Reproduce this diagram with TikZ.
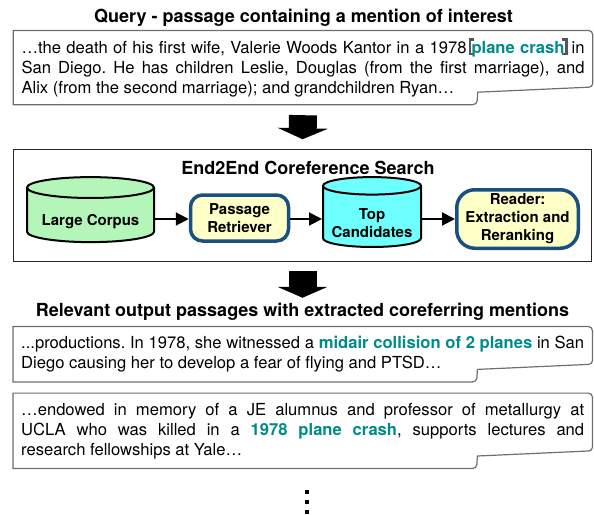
\documentclass[tikz,border=0pt]{standalone}
\usepackage{fontspec}
\setmainfont{TeX Gyre Heros}
\usetikzlibrary{calc}
\usetikzlibrary{positioning}
\usetikzlibrary{arrows.meta}
\usetikzlibrary{shapes.geometric}

\definecolor{mentioncol}{RGB}{0,139,139}
\definecolor{brkgray}{RGB}{85,85,85}
\definecolor{papergray}{RGB}{110,110,110}
\definecolor{corpusgreen}{RGB}{180,246,185}
\definecolor{topcyan}{RGB}{110,255,255}
\definecolor{moduleyellow}{RGB}{255,255,200}
\definecolor{moduleblue}{RGB}{25,80,130}

\hyphenpenalty=10000
\exhyphenpenalty=10000
\tolerance=10000
\frenchspacing

\newcommand{\mention}[1]{\textcolor{mentioncol}{\bfseries #1}}
\newcommand{\lbrk}{\kern2pt{\color{brkgray}\rlap{\rule[-2pt]{5.5pt}{2.5pt}}\rlap{\rule[12.8pt]{5.5pt}{2.5pt}}\rule[-2pt]{2.5pt}{17.3pt}}\kern0.5pt}
\newcommand{\rbrk}{\kern0.5pt{\color{brkgray}\rule[-2pt]{2.5pt}{17.3pt}\llap{\rule[-2pt]{5.5pt}{2.5pt}}\llap{\rule[12.8pt]{5.5pt}{2.5pt}}}\kern4pt}
\newcommand{\paperoutline}[1]{%
\draw[paper] (#1.north west) -- ($(#1.north east)+(-4,0)$) to[out=0,in=90] ($(#1.north east)+(0,4)$)
  -- ($(#1.south east)+(0,-21)$) to[out=-90,in=0] ($(#1.south east)+(-4,-17.5)$)
  -- ($(#1.south east)+(-115,-12.5)$) -- ($(#1.south east)+(-115.5,-4)$) to[out=-90,in=0] ($(#1.south east)+(-120,0)$)
  -- (#1.south west) -- cycle;}

\begin{document}
\begin{tikzpicture}[x=1pt,y=-1pt,
  head/.style={font=\fontsize{18}{22}\selectfont\bfseries, anchor=base, inner sep=0pt},
  passage/.style={text width=563pt, align=justify, inner xsep=8pt, inner ysep=0pt, minimum width=579pt, font=\fontsize{16.6}{20}\selectfont},
  paper/.style={draw=papergray, line width=1.2pt},
  frame/.style={draw=black!85, line width=1.5pt},
  store/.style={cylinder, shape border rotate=90, aspect=0.2, draw, line width=2pt, align=center, font=\fontsize{15}{18}\selectfont\bfseries},
  module/.style={rectangle, rounded corners=12pt, draw=moduleblue, fill=moduleyellow, line width=3.5pt, align=center, font=\fontsize{15}{18}\selectfont\bfseries},
  flow/.style={line width=2pt, -{Triangle[length=13pt,width=13pt]}},
  blockarrow/.style={line width=28pt, -{Triangle[length=11pt,width=50pt]}}]
\useasboundingbox (0,0) rectangle (594,514);

\node[head] (qtitle) at (303.5,22) {Query - passage containing a mention of interest};
\node[passage, minimum height=73.8pt] (query) at (303,67.6) {\parindent=0pt …the death of his first wife, Valerie Woods Kantor in a 1978\lbrk\mention{plane crash}\rbrk in\linebreak
San Diego. He has children Leslie, Douglas (from the first marriage), and\linebreak
Alix (from the second marriage); and grandchildren Ryan…};
\paperoutline{query}

\node[frame, minimum width=578.4pt, minimum height=112.4pt] (search) at (302.5,205.5) {};
\node[head] (stitle) at (308,174) {End2End Coreference Search};

\node[store, fill=corpusgreen, minimum width=127pt, minimum height=65pt, text height=21pt] (corpus) at (90.5,217) {Large Corpus};
\node[module, minimum width=98pt, minimum height=46pt] (retriever) at (239.5,218) {Passage\\Retriever};
\node[store, fill=topcyan, minimum width=98pt, minimum height=45pt, text height=39pt] (topcand) at (372,218.5) {Top\\Candidates};
\node[module, rounded corners=18pt, minimum width=121.5pt, minimum height=58.5pt] (reader) at (517.5,219) {Reader:\\Extraction and\\Reranking};

\draw[flow] (corpus.east |- reader) -- (retriever.west |- reader);
\draw[flow] (retriever.east |- reader) -- (topcand.west |- reader);
\draw[flow] (topcand.east |- reader) -- (reader.west);

\draw[blockarrow] ([yshift=-10.5pt]query.south) -- ([yshift=9.3pt]search.north);
\draw[blockarrow] ([yshift=-8.3pt]search.south) -- ++(0,27);

\node[head] (otitle) at (302.5,316.7) {Relevant output passages with extracted coreferring mentions};

\node[passage, minimum height=55pt] (out1) at (302.7,354.2) {\parindent=0pt ...productions. In 1978, she witnessed a \mention{midair collision of 2 planes} in San\linebreak
Diego causing her to develop a fear of flying and PTSD…};
\paperoutline{out1}

\node[passage, minimum height=75pt] (out2) at (302.7,430.8) {\parindent=0pt …endowed in memory of a JE alumnus and professor of metallurgy at\linebreak
UCLA who was killed in a \mention{1978 plane crash}, supports lectures and\linebreak
research fellowships at Yale…};
\paperoutline{out2}

\fill (305.3,490.3) rectangle ++(3.5,3.5);
\fill (305.3,500.3) rectangle ++(3.5,3.5);
\fill (305.3,510.3) rectangle ++(3.5,3.5);
\end{tikzpicture}
\end{document}
